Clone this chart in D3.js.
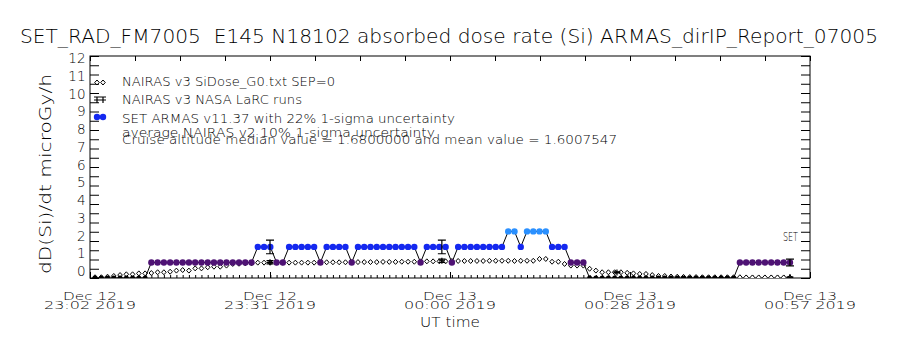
<!DOCTYPE html>
<html>
<head>
<meta charset="utf-8">
<script src="https://cdn.jsdelivr.net/npm/d3@7"></script>
<style>
  body { margin: 0; background: #fff; }
  text { font-family: "DejaVu Sans", sans-serif; font-weight: 300; fill: #000; white-space: pre; }
</style>
</head>
<body>
<svg id="chart" width="900" height="350"></svg>
<script>
// time axis: five labelled ticks spanning the flight window
const axisStart = "2019-12-12T23:02:05Z";
const axisEnd = "2019-12-13T00:57:05Z";
const tickDays = ["Dec 12", "Dec 12", "Dec 13", "Dec 13", "Dec 13"];
const tickTimes = ["23:02 2019", "23:31 2019", "00:00 2019", "00:28 2019", "00:57 2019"];
const yTickValues = [0, 1, 2, 3, 4, 5, 6, 7, 8, 9, 10, 11, 12];
const yMinorValues = [0, 0.5, 1, 1.5, 2, 2.5, 3, 3.5, 4, 4.5, 5, 5.5, 6, 6.5, 7, 7.5, 8, 8.5, 9, 9.5, 10, 10.5, 11, 11.5, 12];

// one sample per minute from this time on
const sampleStart = "2019-12-12T23:02:53Z";

// SET ARMAS absorbed dose rate, microGy/h
const armas = [
  0, 0, 0, 0, 0, 0, 0, 0, 0,
  0.84, 0.84, 0.84, 0.84, 0.84, 0.84, 0.84, 0.84, 0.84, 0.84, 0.84, 0.84, 0.84, 0.84, 0.84, 0.84, 0.84,
  1.68, 1.68, 1.68, 0.84, 0.84,
  1.68, 1.68, 1.68, 1.68, 1.68, 0.84,
  1.68, 1.68, 1.68, 1.68, 0.84,
  1.68, 1.68, 1.68, 1.68, 1.68, 1.68, 1.68, 1.68, 1.68, 1.68, 0.84,
  1.68, 1.68, 1.68, 1.68, 0.84,
  1.68, 1.68, 1.68, 1.68, 1.68, 1.68, 1.68, 1.68,
  2.52, 2.52, 1.68, 2.52, 2.52, 2.52, 2.52,
  1.68, 1.68, 1.68, 0.84, 0.84, 0.84,
  0, 0, 0, 0, 0, 0, 0, 0, 0, 0, 0, 0, 0, 0, 0, 0, 0, 0, 0, 0, 0, 0, 0, 0,
  0.84, 0.84, 0.84, 0.84, 0.84, 0.84, 0.84, 0.84, 0.84
];

// NAIRAS v3 SiDose at the same sample times
const nairas = [
  0.04, 0.04, 0.07, 0.11, 0.16, 0.2, 0.2, 0.25, 0.25, 0.27,
  0.31, 0.31, 0.34, 0.4, 0.43, 0.4, 0.52, 0.52, 0.58, 0.61,
  0.61, 0.67, 0.76, 0.77, 0.79, 0.79, 0.83, 0.83, 0.83, 0.83,
  0.83, 0.83, 0.83, 0.83, 0.83, 0.83, 0.85, 0.85, 0.85, 0.85,
  0.85, 0.85, 0.86, 0.86, 0.86, 0.86, 0.87, 0.87, 0.87, 0.88,
  0.88, 0.88, 0.9, 0.9, 0.9, 0.9, 0.9, 0.92, 0.92, 0.92,
  0.92, 0.92, 0.92, 0.93, 0.93, 0.93, 0.93, 0.92, 0.93, 0.93,
  0.93, 1.03, 1.03, 0.88, 0.88, 0.76, 0.67, 0.67, 0.67, 0.5,
  0.4, 0.31, 0.31, 0.31, 0.31, 0.28, 0.25, 0.22, 0.22, 0.16,
  0.11, 0.11, 0.08, 0.07, 0.06, 0.05, 0.05, 0.04, 0.04, 0.04,
  0.04, 0.04, 0.04, 0.04, 0.03, 0.03, 0.03, 0.03, 0.03, 0.03,
  0.03, 0.03
];

// NAIRAS v3 NASA LaRC runs, with ARMAS values at the same times
const larcTimes = ["2019-12-12T23:30:50Z", "2019-12-12T23:58:17Z", "2019-12-13T00:26:15Z", "2019-12-13T00:53:53Z"];
const larcValues = [0.85, 0.93, 0.30, 0.05];
const armasAtLarc = [1.68, 1.68, 0, 0.84];

const legendLabels = [
  "NAIRAS v3 SiDose_G0.txt SEP=0",
  "NAIRAS v3 NASA LaRC runs",
  "SET ARMAS v11.37 with 22% 1-sigma uncertainty",
  "average NAIRAS v2 10% 1-sigma uncertainty",
  "Cruise altitude median value = 1.6800000 and mean value = 1.6007547"
];

const svg = d3.select("#chart");
const pLeft = 90, pRight = 810, pTop = 56, pBottom = 278;

const t0 = new Date(axisStart), t1 = new Date(axisEnd);
const x = d3.scaleTime().domain([t0, t1]).range([pLeft, pRight]);
const y = d3.scaleLinear().domain([0, 12]).range([pBottom, pTop]);
// tick labels sit on a slightly tighter ladder than the ticks
const yLab = d3.scaleLinear().domain([0, 12]).range([276, 63]);

const s0 = new Date(sampleStart).getTime();
const sampleTime = i => new Date(s0 + i * 60000);

const doseColor = d3.scaleOrdinal()
  .domain([0, 0.84, 1.68, 2.52])
  .range(["#000000", "#4e1274", "#1428f0", "#2a90ff"]);

// title
svg.append("text")
  .attr("x", 20).attr("y", 43)
  .attr("font-size", 19)
  .attr("textLength", 858).attr("lengthAdjust", "spacingAndGlyphs")
  .text("SET_RAD_FM7005  E145 N18102 absorbed dose rate (Si) ARMAS_dirIP_Report_07005");

// y label
svg.append("text")
  .attr("transform", "translate(51,174) rotate(-90)")
  .attr("text-anchor", "middle")
  .attr("font-size", 15)
  .attr("textLength", 200).attr("lengthAdjust", "spacingAndGlyphs")
  .text("dD(Si)/dt microGy/h");

// frame
svg.append("rect")
  .attr("x", pLeft).attr("y", pTop)
  .attr("width", pRight - pLeft).attr("height", pBottom - pTop)
  .attr("fill", "none").attr("stroke", "#000").attr("stroke-width", 1);

// y ticks left and right, every half unit
const yAxisL = d3.axisLeft(y).tickValues(yMinorValues).tickSize(-9).tickFormat("");
const yAxisR = d3.axisRight(y).tickValues(yMinorValues).tickSize(-9).tickFormat("");
svg.append("g").attr("transform", `translate(${pLeft},0)`).call(yAxisL)
  .call(g => g.select(".domain").remove());
svg.append("g").attr("transform", `translate(${pRight},0)`).call(yAxisR)
  .call(g => g.select(".domain").remove());

svg.append("g").selectAll("text")
  .data(yTickValues)
  .enter().append("text")
  .attr("x", 85.5)
  .attr("y", d => yLab(d))
  .attr("text-anchor", "end")
  .attr("font-size", 13.5)
  .text(d => d);

// x ticks
const majorTicks = d3.range(5).map(i => new Date(t0.getTime() + i * (t1 - t0) / 4));
const quarterTicks = d3.range(17).map(i => new Date(t0.getTime() + i * (t1 - t0) / 16));
const minuteTicks = armas.map((d, i) => sampleTime(i));

svg.append("g").attr("transform", `translate(0,${pTop})`)
  .call(d3.axisTop(x).tickValues(quarterTicks).tickSize(-5).tickFormat(""))
  .call(g => g.select(".domain").remove());
svg.append("g").attr("transform", `translate(0,${pBottom})`)
  .call(d3.axisBottom(x).tickValues(minuteTicks).tickSize(-3).tickFormat(""))
  .call(g => g.select(".domain").remove());
svg.append("g").attr("transform", `translate(0,${pBottom})`)
  .call(d3.axisBottom(x).tickValues(majorTicks).tickSize(-6).tickFormat(""))
  .call(g => g.select(".domain").remove());

const xLab = svg.append("g").selectAll("g")
  .data(majorTicks)
  .enter().append("g")
  .attr("transform", d => `translate(${x(d)},0)`);
xLab.append("text")
  .attr("y", 299.5).attr("text-anchor", "middle").attr("font-size", 11)
  .attr("textLength", 54).attr("lengthAdjust", "spacingAndGlyphs")
  .text((d, i) => tickDays[i]);
xLab.append("text")
  .attr("y", 308.5).attr("text-anchor", "middle").attr("font-size", 11)
  .attr("textLength", 92).attr("lengthAdjust", "spacingAndGlyphs")
  .text((d, i) => tickTimes[i]);

svg.append("text")
  .attr("x", 450).attr("y", 326.5)
  .attr("text-anchor", "middle").attr("font-size", 14)
  .attr("textLength", 60).attr("lengthAdjust", "spacingAndGlyphs")
  .text("UT time");

// plot contents, clipped to the frame
svg.append("clipPath").attr("id", "plotclip")
  .append("rect").attr("x", pLeft).attr("y", pTop)
  .attr("width", pRight - pLeft).attr("height", pBottom - pTop);
const plot = svg.append("g").attr("clip-path", "url(#plotclip)");

const diamond = (cx, cy) => `M${cx},${cy - 2.5}L${cx + 2.3},${cy}L${cx},${cy + 2.5}L${cx - 2.3},${cy}Z`;

// NAIRAS diamonds
plot.append("g").selectAll("path")
  .data(nairas)
  .enter().append("path")
  .attr("d", (d, i) => diamond(x(sampleTime(i)), y(d)))
  .attr("fill", "#fff").attr("stroke", "#000").attr("stroke-width", 1);

// ARMAS line and dots
const armasLine = d3.line()
  .x((d, i) => x(sampleTime(i)))
  .y(d => y(d));
plot.append("path")
  .datum(armas)
  .attr("d", armasLine)
  .attr("fill", "none").attr("stroke", "#000").attr("stroke-width", 1);

plot.append("g").selectAll("circle")
  .data(armas)
  .enter().append("circle")
  .attr("cx", (d, i) => x(sampleTime(i)))
  .attr("cy", d => y(d))
  .attr("r", d => d === 0 ? 2.5 : 3.2)
  .attr("fill", d => doseColor(d));

// error bars: ARMAS 22%, LaRC 10%
function errorBar(g, t, v, frac, cap) {
  const cx = x(new Date(t));
  const lo = y(v * (1 - frac)), hi = y(v * (1 + frac));
  const p = `M${cx},${lo}V${hi}M${cx - cap},${lo}H${cx + cap}M${cx - cap},${hi}H${cx + cap}`;
  g.append("path").attr("d", p).attr("fill", "none")
    .attr("stroke", "#000").attr("stroke-width", 1.2);
}
larcTimes.forEach((t, i) => {
  errorBar(plot, t, armasAtLarc[i], 0.22, 4);
  errorBar(plot, t, larcValues[i], 0.10, 3.5);
  const cx = x(new Date(t)), cy = y(larcValues[i]);
  plot.append("path")
    .attr("d", `M${cx - 3},${cy}H${cx + 3}M${cx},${cy - 3}V${cy + 3}`)
    .attr("stroke", "#000").attr("stroke-width", 1.2);
});

// legend
const legendY = [86, 104, 123, 137, 144];
svg.append("g").selectAll("text")
  .data(legendLabels)
  .enter().append("text")
  .attr("x", 122)
  .attr("y", (d, i) => legendY[i])
  .attr("font-size", 12.5)
  .attr("textLength", (d, i) => [213, 180, 333, 313, 495][i])
  .attr("lengthAdjust", "spacingAndGlyphs")
  .text(d => d);

[97, 103].forEach(cx => {
  svg.append("path").attr("d", diamond(cx, 82.5))
    .attr("fill", "#fff").attr("stroke", "#000");
  svg.append("path").attr("d", `M${cx - 3},${100}H${cx + 3}M${cx},${97}V${103}`)
    .attr("stroke", "#000").attr("stroke-width", 1.2);
  svg.append("circle").attr("cx", cx).attr("cy", 117).attr("r", 3.2)
    .attr("fill", doseColor(1.68));
});
svg.append("path").attr("d", "M94,97H106").attr("stroke", "#000");

svg.append("text")
  .attr("x", 783).attr("y", 240.5)
  .attr("font-size", 12.5)
  .attr("textLength", 15).attr("lengthAdjust", "spacingAndGlyphs")
  .text("SET");
</script>
</body>
</html>
